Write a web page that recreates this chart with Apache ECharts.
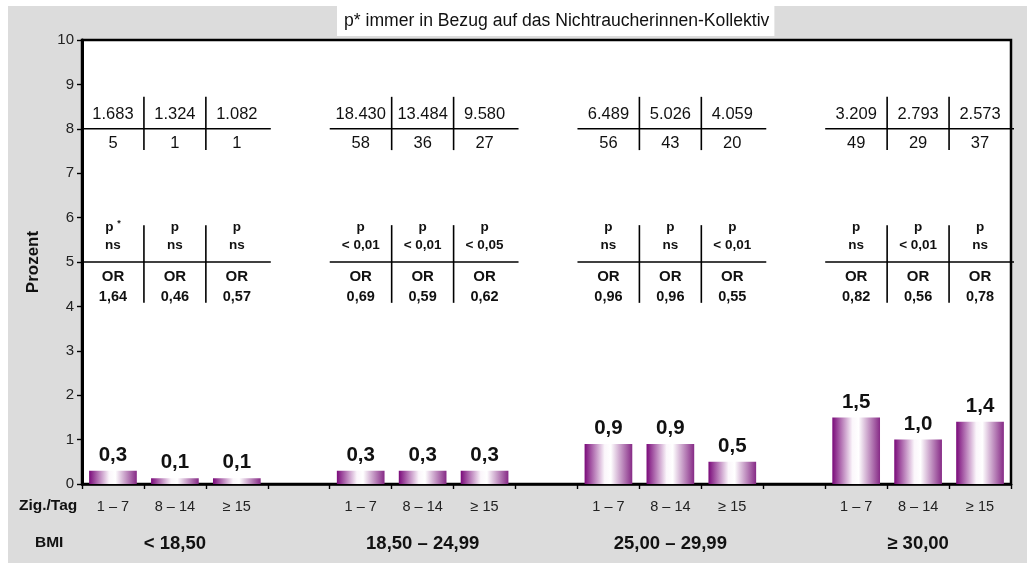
<!DOCTYPE html>
<html>
<head>
<meta charset="utf-8">
<script src="https://cdn.jsdelivr.net/npm/echarts@6/dist/echarts.min.js"></script>
<style>
  html, body { margin: 0; padding: 0; background: #ffffff; }
  #chart { width: 1027px; height: 567px; }
</style>
</head>
<body>
<div id="chart"></div>
<script>
// Zigaretten pro Tag je BMI-Gruppe (mit Leerspalte zwischen den Gruppen)
var slotLabels = ['1 – 7', '8 – 14', '≥ 15', '', '1 – 7', '8 – 14', '≥ 15', '', '1 – 7', '8 – 14', '≥ 15', '', '1 – 7', '8 – 14', '≥ 15'];
var barValues = [0.3, 0.13, 0.13, null, 0.3, 0.3, 0.3, null, 0.9, 0.9, 0.5, null, 1.5, 1.0, 1.4];
var bmiGroups = ['< 18,50', '18,50 – 24,99', '25,00 – 29,99', '≥ 30,00'];

// Tabellenwerte je Säule
var nTotal = ['1.683', '1.324', '1.082', '18.430', '13.484', '9.580', '6.489', '5.026', '4.059', '3.209', '2.793', '2.573'];
var nCases = ['5', '1', '1', '58', '36', '27', '56', '43', '20', '49', '29', '37'];
var pVals = ['ns', 'ns', 'ns', '< 0,01', '< 0,01', '< 0,05', 'ns', 'ns', '< 0,01', 'ns', '< 0,01', 'ns'];
var orVals = ['1,64', '0,46', '0,57', '0,69', '0,59', '0,62', '0,96', '0,96', '0,55', '0,82', '0,56', '0,78'];

var FONT = 'Liberation Sans, Arial, sans-serif';

// Tabellen-Positionen: Spalte -> Slot
var tableData = [];
var k = 0;
for (var s = 0; s < slotLabels.length; s++) {
    if (slotLabels[s] !== '') {
        tableData.push([s, k, k % 3]);
        k++;
    }
}

function renderTable(params, api) {
    var slot = api.value(0);
    var i = api.value(1);
    var col = api.value(2);
    var w = api.size([1, 0])[0];
    var cx = api.coord([slot, 0])[0];
    var left = cx - w / 2;
    var right = cx + w / 2 + (col === 2 ? 3 : 0);
    function y(v) { return api.coord([slot, v])[1]; }
    var black = '#000';
    var children = [];
    function txt(t, yy, size, bold, extra) {
        var st = {
            text: t, x: cx, y: yy, align: 'center', verticalAlign: 'middle',
            fontFamily: FONT, fontSize: size, fontWeight: bold ? 'bold' : 'normal', fill: '#111'
        };
        if (extra) { for (var p in extra) st[p] = extra[p]; }
        children.push({ type: 'text', style: st });
    }
    function line(x1, y1, x2, y2) {
        children.push({ type: 'line', shape: { x1: x1, y1: y1, x2: x2, y2: y2 }, style: { stroke: black, lineWidth: 1.6 } });
    }
    // obere Tabelle
    txt(nTotal[i], y(8.33), 16.5, false);
    txt(nCases[i], y(7.68), 16.5, false);
    line(left, y(8), right, y(8));
    // untere Tabelle
    if (i === 0) {
        txt('{a|p }{s|*}', y(5.79), 13.5, true, {
            rich: {
                a: { fontFamily: FONT, fontSize: 13.5, fontWeight: 'bold', fill: '#111' },
                s: { fontFamily: FONT, fontSize: 9, fontWeight: 'bold', fill: '#111', padding: [0, 0, 6, 0] }
            }
        });
    } else {
        txt('p', y(5.78), 13.5, true);
    }
    txt(pVals[i], y(5.38), 13.5, true);
    line(left, y(5), right, y(5));
    txt('OR', y(4.66), 15, true);
    txt(orVals[i], y(4.22), 14.5, true);
    if (col > 0) {
        line(left, y(8.72), left, y(7.52));
        line(left, y(5.83), left, y(4.08));
    }
    // Gruppenbeschriftung unter der Achse
    if (col === 1) {
        children.push({
            type: 'text',
            style: {
                text: bmiGroups[Math.floor(i / 3)], x: cx, y: y(0) + 60,
                align: 'center', verticalAlign: 'middle',
                fontFamily: FONT, fontSize: 18.5, fontWeight: 'bold', fill: '#111'
            }
        });
    }
    return { type: 'group', children: children };
}

var chart = echarts.init(document.getElementById('chart'));

var option = {
    backgroundColor: '#ffffff',
    animation: false,
    title: {
        text: 'p* immer in Bezug auf das Nichtraucherinnen-Kollektiv',
        left: 337,
        top: 6,
        backgroundColor: '#ffffff',
        padding: [6, 5, 6, 7],
        textStyle: { fontFamily: FONT, fontSize: 17.6, fontWeight: 'normal', color: '#111' }
    },
    graphic: [
        { type: 'rect', z: -10, shape: { x: 8, y: 6, width: 1019, height: 557 }, style: { fill: '#dcdcdc' } },
        { type: 'text', left: 19, top: 498, style: { text: 'Zig./Tag', fontFamily: FONT, fontSize: 15.5, fontWeight: 'bold', fill: '#111' } },
        { type: 'text', left: 35, top: 535, style: { text: 'BMI', fontFamily: FONT, fontSize: 15.5, fontWeight: 'bold', fill: '#111' } }
    ],
    grid: {
        left: 82, right: 16, top: 40, bottom: 83,
        show: true, backgroundColor: '#ffffff', borderColor: '#000', borderWidth: 2.5
    },
    xAxis: {
        type: 'category',
        data: slotLabels,
        axisLine: { lineStyle: { color: '#000', width: 2.5 } },
        axisTick: { show: true, length: 5, interval: 0, lineStyle: { color: '#000', width: 1.4 } },
        axisLabel: { interval: 0, margin: 15, fontFamily: FONT, fontSize: 14.5, color: '#222' }
    },
    yAxis: {
        type: 'value',
        min: 0, max: 10, interval: 1,
        name: 'Prozent',
        nameLocation: 'middle',
        nameRotate: 90,
        nameGap: 40,
        nameTextStyle: { fontFamily: FONT, fontSize: 17, fontWeight: 'bold', color: '#111' },
        axisLine: { show: true, lineStyle: { color: '#000', width: 3 } },
        axisTick: { show: true, length: 5, lineStyle: { color: '#000', width: 1.4 } },
        axisLabel: { margin: 8, fontFamily: FONT, fontSize: 15, color: '#222' },
        splitLine: { show: false }
    },
    series: [
        {
            type: 'bar',
            data: barValues,
            barWidth: '77%',
            itemStyle: {
                color: new echarts.graphic.LinearGradient(0, 0, 1, 0, [
                    { offset: 0, color: '#7a0a7a' },
                    { offset: 0.42, color: '#fbf6fb' },
                    { offset: 0.55, color: '#ffffff' },
                    { offset: 1, color: '#862a86' }
                ])
            },
            label: {
                show: true,
                position: 'top',
                distance: 5,
                fontFamily: FONT,
                fontSize: 20.5,
                fontWeight: 'bold',
                color: '#111',
                formatter: function (p) { return p.value == null ? '' : p.value.toFixed(1).replace('.', ','); }
            }
        },
        {
            type: 'custom',
            data: tableData,
            renderItem: renderTable,
            clip: false,
            silent: true,
            z: 5
        }
    ]
};

chart.setOption(option);
</script>
</body>
</html>
